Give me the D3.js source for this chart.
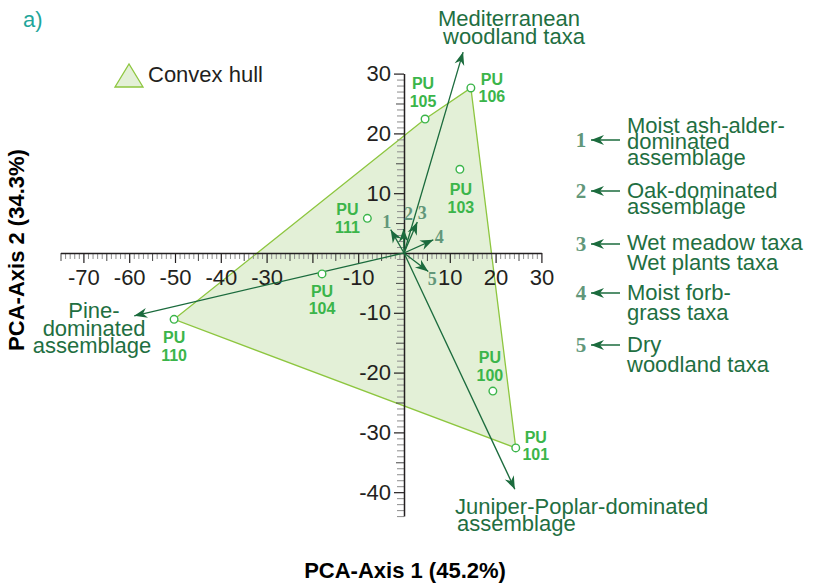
<!DOCTYPE html>
<html>
<head>
<meta charset="utf-8">
<script src="https://cdn.jsdelivr.net/npm/d3@7"></script>
<style>
body{margin:0;background:#fff}
svg{display:block}
</style>
</head>
<body>
<svg id="chart" width="813" height="586"></svg>
<script>
// sample sites (PCA scores)
var siteIds = ["100", "101", "103", "104", "105", "106", "110", "111"];
var siteX = [19.4, 24.4, 12.2, -17.9, 4.6, 14.6, -50.2, -8.0];
var siteY = [-23.1, -32.6, 14.0, -3.5, 22.4, 27.6, -11.1, 5.8];

// taxa vectors
var vecNames = ["1", "2", "3", "4", "5", "Mediterranean woodland taxa", "Juniper-Poplar-dominated assemblage", "Pine-dominated assemblage"];
var vecX = [-2.9, -0.1, 2.9, 6.4, 5.3, 12.9, 24.2, -58.9];
var vecY = [3.9, 4.0, 5.2, 2.2, -3.1, 33.6, -39.5, -10.5];

// legend of numbered vectors
var legendNums = ["1", "2", "3", "4", "5"];
var legendText = [
  ["Moist ash-alder-", "dominated", "assemblage"],
  ["Oak-dominated", "assemblage"],
  ["Wet meadow taxa", "Wet plants taxa"],
  ["Moist forb-", "grass taxa"],
  ["Dry", "woodland taxa"]
];

// axis ticks
var xTickLabels = [-70, -60, -50, -40, -30, -10, 10, 20, 30];
var yTickLabels = [30, 20, 10, -10, -20, -30, -40];

// layout only (label placement)
var siteLabelOff = {"100": [-3, -28], "101": [20, -5], "103": [1, 26], "104": [0, 23], "105": [-2, -30], "106": [21, -3], "110": [0, 24], "111": [-20, -3]};
var numLabelOff = [[-4, -2], [5, -9], [5, -3], [6, 3], [4, 13]];
var legendArrowY = [140, 191, 244, 293, 345];
var legendLineOff = [[-7, 9, 25], [7, 23], [6, 26], [7, 27], [7, 27]];

var sans = "'Liberation Sans', Arial, sans-serif";
var serif = "'Liberation Serif', 'Times New Roman', serif";
var dark = "#231f20";
var arrowCol = "#1b6b3d";
var textGreen = "#1f6f42";
var puGreen = "#3bb54a";
var numCol = "#62977a";
var plain = function(d) { return String(d); };

var svg = d3.select("#chart");

var x = d3.scaleLinear().domain([-75, 30]).range([60.5, 541.4]);
var y = d3.scaleLinear().domain([-44, 30]).range([516.1, 73.6]);

var defs = svg.append("defs");
defs.append("marker")
  .attr("id", "head")
  .attr("viewBox", "-14 -6 16 12")
  .attr("refX", 0).attr("refY", 0)
  .attr("markerWidth", 16).attr("markerHeight", 12)
  .attr("markerUnits", "userSpaceOnUse")
  .attr("orient", "auto")
  .append("path")
  .attr("d", "M0,0L-13,-5L-9,0L-13,5Z")
  .attr("fill", arrowCol);

// convex hull
var pts = siteIds.map(function(d, i) { return [x(siteX[i]), y(siteY[i])]; });
var hull = d3.polygonHull(pts);
svg.append("path")
  .attr("d", "M" + hull.join("L") + "Z")
  .attr("fill", "#e3f0d7")
  .attr("stroke", "#8dc63f")
  .attr("stroke-width", 1.3);

// x axis
var xg = svg.append("g").attr("transform", "translate(0," + y(0) + ")");
var xMinor = d3.range(-75, 31).filter(function(v) { return v % 5 !== 0; });
var xFive = d3.range(-75, 31, 5).filter(function(v) { return v % 10 !== 0; });
var xTen = d3.range(-70, 31, 10);

xg.append("g").call(d3.axisBottom(x).tickValues(xMinor).tickSize(6).tickFormat("").tickSizeOuter(0))
  .call(function(g) { g.select(".domain").remove(); g.selectAll("line").attr("stroke", "#8c8c8c"); });
xg.append("g").call(d3.axisBottom(x).tickValues(xFive).tickSize(8).tickFormat("").tickSizeOuter(0))
  .call(function(g) { g.select(".domain").remove(); g.selectAll("line").attr("stroke", "#444"); });
xg.append("g").call(d3.axisBottom(x).tickValues(xTen).tickSize(10).tickFormat("").tickSizeOuter(0))
  .call(function(g) { g.select(".domain").attr("stroke", dark).attr("stroke-width", 1.5); g.selectAll("line").attr("stroke", dark).attr("stroke-width", 1.2); });
xg.append("g").call(d3.axisBottom(x).tickValues(xTickLabels).tickSize(0).tickPadding(16).tickFormat(plain))
  .attr("font-size", 22).attr("font-family", sans)
  .call(function(g) { g.select(".domain").remove(); g.selectAll("text").attr("fill", dark); });

// y axis
var yg = svg.append("g").attr("transform", "translate(" + x(0) + ",0)");
var yMinor = d3.range(-44, 31).filter(function(v) { return v % 5 !== 0; });
var yFive = d3.range(-35, 31, 5).filter(function(v) { return v % 10 !== 0; });
var yTen = d3.range(-40, 31, 10);

yg.append("g").call(d3.axisLeft(y).tickValues(yMinor).tickSize(7).tickFormat("").tickSizeOuter(0))
  .call(function(g) { g.select(".domain").remove(); g.selectAll("line").attr("stroke", "#8c8c8c"); });
yg.append("g").call(d3.axisLeft(y).tickValues(yFive).tickSize(8).tickFormat("").tickSizeOuter(0))
  .call(function(g) { g.select(".domain").remove(); g.selectAll("line").attr("stroke", "#444"); });
yg.append("g").call(d3.axisLeft(y).tickValues(yTen).tickSize(10).tickFormat("").tickSizeOuter(0))
  .call(function(g) { g.select(".domain").attr("stroke", dark).attr("stroke-width", 1.5); g.selectAll("line").attr("stroke", dark).attr("stroke-width", 1.2); });
yg.append("g").call(d3.axisLeft(y).tickValues(yTickLabels).tickSize(0).tickPadding(13).tickFormat(plain))
  .attr("font-size", 22).attr("font-family", sans)
  .call(function(g) { g.select(".domain").remove(); g.selectAll("text").attr("fill", dark); });

// vectors
svg.append("g").selectAll("line")
  .data(vecNames)
  .enter().append("line")
  .attr("x1", x(0)).attr("y1", y(0))
  .attr("x2", function(d, i) { return x(vecX[i]); })
  .attr("y2", function(d, i) { return y(vecY[i]); })
  .attr("stroke", arrowCol)
  .attr("stroke-width", 1.3)
  .attr("marker-end", "url(#head)");

// numbers at short vectors
svg.append("g").selectAll("text")
  .data(legendNums)
  .enter().append("text")
  .attr("x", function(d, i) { return x(vecX[i]) + numLabelOff[i][0]; })
  .attr("y", function(d, i) { return y(vecY[i]) + numLabelOff[i][1]; })
  .attr("text-anchor", "middle")
  .attr("font-family", serif)
  .attr("font-weight", "bold")
  .attr("font-size", 18)
  .attr("fill", numCol)
  .text(function(d) { return d; });

// long vector labels
function block(lines, xs, ys, anchor) {
  var t = svg.append("text")
    .attr("font-family", sans)
    .attr("font-size", 22)
    .attr("fill", textGreen)
    .attr("text-anchor", anchor);
  lines.forEach(function(l, i) {
    t.append("tspan").attr("x", xs[i]).attr("y", ys[i]).text(l);
  });
}
block(["Mediterranean", "woodland taxa"], [438, 443], [26, 44], "start");
block(["Juniper-Poplar-dominated", "assemblage"], [455, 457], [514, 531], "start");
block(["Pine-", "dominated", "assemblage"], [94, 94, 92], [318, 336, 353], "middle");

// sites
svg.append("g").selectAll("circle")
  .data(siteIds)
  .enter().append("circle")
  .attr("cx", function(d, i) { return x(siteX[i]); })
  .attr("cy", function(d, i) { return y(siteY[i]); })
  .attr("r", 3.8)
  .attr("fill", "#fff")
  .attr("stroke", puGreen)
  .attr("stroke-width", 1.4);

var sl = svg.append("g").selectAll("text")
  .data(siteIds)
  .enter().append("text")
  .attr("font-family", sans)
  .attr("font-weight", "bold")
  .attr("font-size", 16)
  .attr("fill", puGreen)
  .attr("text-anchor", "middle");
sl.append("tspan")
  .attr("x", function(d, i) { return x(siteX[i]) + siteLabelOff[d][0]; })
  .attr("y", function(d, i) { return y(siteY[i]) + siteLabelOff[d][1]; })
  .text("PU");
sl.append("tspan")
  .attr("x", function(d, i) { return x(siteX[i]) + siteLabelOff[d][0]; })
  .attr("y", function(d, i) { return y(siteY[i]) + siteLabelOff[d][1] + 17.5; })
  .text(function(d) { return d; });

// legend for numbered vectors
var lg = svg.append("g").selectAll("g")
  .data(legendNums)
  .enter().append("g")
  .attr("transform", function(d, i) { return "translate(0," + legendArrowY[i] + ")"; });

lg.append("text")
  .attr("x", 581).attr("y", 7)
  .attr("text-anchor", "middle")
  .attr("font-family", serif)
  .attr("font-weight", "bold")
  .attr("font-size", 21)
  .attr("fill", numCol)
  .text(function(d) { return d; });

lg.append("line")
  .attr("x1", 620).attr("x2", 591)
  .attr("y1", 0).attr("y2", 0)
  .attr("stroke", arrowCol)
  .attr("stroke-width", 1.5)
  .attr("marker-end", "url(#head)");

lg.each(function(d, i) {
  var t = d3.select(this).append("text")
    .attr("font-family", sans)
    .attr("font-size", 22)
    .attr("fill", textGreen);
  legendText[i].forEach(function(l, j) {
    t.append("tspan").attr("x", 627).attr("y", legendLineOff[i][j]).text(l);
  });
});

// convex hull key
svg.append("path")
  .attr("d", "M115,87L129,64L143,87Z")
  .attr("fill", "#e3f0d7")
  .attr("stroke", "#8dc63f")
  .attr("stroke-width", 1.3);
svg.append("text")
  .attr("x", 148).attr("y", 82)
  .attr("font-family", sans).attr("font-size", 22)
  .attr("fill", dark)
  .text("Convex hull");

// panel letter
svg.append("text")
  .attr("x", 23).attr("y", 27)
  .attr("font-family", sans).attr("font-size", 22)
  .attr("fill", "#1fa69b")
  .text("a)");

// axis titles
svg.append("text")
  .attr("x", 405).attr("y", 578)
  .attr("text-anchor", "middle")
  .attr("font-family", sans).attr("font-size", 22).attr("font-weight", "bold")
  .attr("fill", "#000")
  .text("PCA-Axis 1 (45.2%)");
svg.append("text")
  .attr("transform", "translate(24,250) rotate(-90)")
  .attr("text-anchor", "middle")
  .attr("font-family", sans).attr("font-size", 22).attr("font-weight", "bold")
  .attr("fill", "#000")
  .text("PCA-Axis 2 (34.3%)");
</script>
</body>
</html>
